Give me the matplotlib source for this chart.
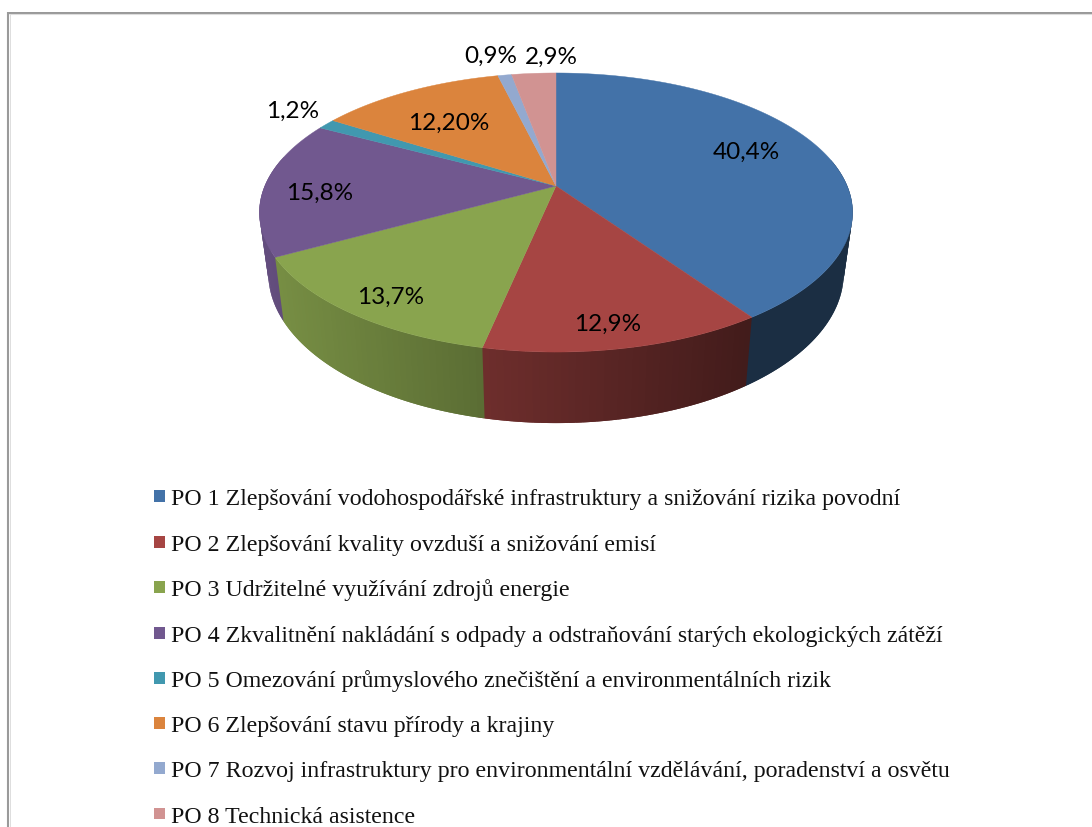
import numpy as np
import matplotlib
matplotlib.use("Agg")
import matplotlib.pyplot as plt
from matplotlib.patches import Rectangle

categories = [
    "PO 1 Zlepšování vodohospodářské infrastruktury a snižování rizika povodní",
    "PO 2 Zlepšování kvality ovzduší a snižování emisí",
    "PO 3 Udržitelné využívání zdrojů energie",
    "PO 4 Zkvalitnění nakládání s odpady a odstraňování starých ekologických zátěží",
    "PO 5 Omezování průmyslového znečištění a environmentálních rizik",
    "PO 6 Zlepšování stavu přírody a krajiny",
    "PO 7 Rozvoj infrastruktury pro environmentální vzdělávání, poradenství a osvětu",
    "PO 8 Technická asistence",
]
values = [40.4, 12.9, 13.7, 15.8, 1.2, 12.2, 0.9, 2.9]
value_labels = ["40,4%", "12,9%", "13,7%", "15,8%", "1,2%", "12,20%", "0,9%", "2,9%"]
colors = ["#4372A8", "#A64543", "#89A44E", "#71588F", "#4198AF", "#DB843D", "#93A9CF", "#D19392"]
label_pos = [(746, 152.5), (608, 324.5), (391, 297.5), (320, 193.5), (293, 111.5), (449, 123.5), (491, 56), (551, 57)]

W, H = 1092, 828
CX, CY, A, B, K = 556.0, 187.0, 291.2, 134.5, 0.19
WALL_SCALE = 0.97

fig = plt.figure(figsize=(W / 100, H / 100), dpi=100, facecolor="white")
ax = fig.add_axes([0, 0, 1, 1])
ax.set_xlim(0, W)
ax.set_ylim(H, 0)
ax.axis("off")


def top_rim(theta):
    u, v = np.sin(theta), np.cos(theta)
    d = 1 + K * v
    return CX + A * u / d, CY - B * v / d


def bottom_rim(theta):
    x, y = top_rim(theta)
    return CX + (x - CX) * WALL_SCALE, y + 64 + (y - 258) * 0.074


def shade(x):
    return np.interp(x, [260, 483, 745, 850], [0.88, 0.66, 0.40, 0.40])


bounds = np.cumsum([0] + values) / sum(values) * 2 * np.pi
STEP = 0.02

# wall: overlapping slices, drawn clockwise, so that no seams show
for i, col in enumerate(colors):
    n = max(2, int((bounds[i + 1] - bounds[i]) / STEP))
    th = np.linspace(bounds[i], bounds[i + 1], n + 1)
    base = np.array(matplotlib.colors.to_rgb(col))
    for a, b in zip(th[:-1], th[1:]):
        if np.cos((a + b) / 2) > 0.2:
            continue
        b2 = min(b + STEP, bounds[-1])
        arc = np.linspace(a, b2, 5)
        xt, yt = top_rim(arc)
        xb, yb = bottom_rim(arc)
        c = base * shade(xt.mean())
        ax.fill(np.r_[xt, xb[::-1]], np.r_[yt, yb[::-1]], color=c, lw=0, zorder=2)

# top face
for i, col in enumerate(colors):
    th = np.linspace(bounds[i], bounds[i + 1], 200)
    xs, ys = top_rim(th)
    ax.fill(np.r_[CX, xs], np.r_[CY, ys], color=col, lw=0.3, zorder=3)

for text, (x, y) in zip(value_labels, label_pos):
    ax.text(x, y, text, ha="center", va="center", family="Lato", fontsize=17.5,
            color="black", zorder=5)

# legend
legend_y = [497, 543, 588, 634, 679, 724, 769, 815]
for y, text, col in zip(legend_y, categories, colors):
    ax.add_patch(Rectangle((153.5, y - 6), 11.5, 11.5, facecolor=col, edgecolor="none", zorder=4))
    ax.text(171, y + 8, text, ha="left", va="baseline", family="Liberation Serif",
            fontsize=17.2, color="#111111", zorder=5)

# frame of the page image
ax.plot([8.5, W], [13.5, 13.5], color="#858585", lw=1.2, zorder=1, solid_capstyle="butt")
ax.plot([9, W], [15, 15], color="#dddddd", lw=0.8, zorder=1, solid_capstyle="butt")
ax.plot([8, 8], [13, H], color="#9a9a9a", lw=1.5, zorder=1, solid_capstyle="butt")
ax.plot([9.5, 9.5], [15, H], color="#dddddd", lw=0.7, zorder=1, solid_capstyle="butt")

fig.savefig("out.png", dpi=100, facecolor="white")
